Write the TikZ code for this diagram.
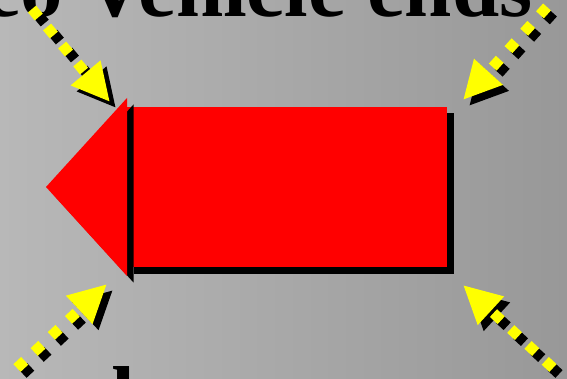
\documentclass[tikz,border=0pt]{standalone}
\usepackage{fontspec}
\setmainfont{Liberation Serif}
\usepackage{tikz}
\usetikzlibrary{arrows.meta, shadows}
\definecolor{slidelight}{RGB}{184,184,184}
\definecolor{slidedark}{RGB}{152,152,152}
\definecolor{vehred}{RGB}{255,0,0}
\definecolor{markyellow}{RGB}{255,255,0}

\begin{document}
\begin{tikzpicture}[x=1pt, y=-1pt,
    title/.style={font=\bfseries\fontsize{85}{90}\selectfont, anchor=base west, inner sep=0pt},
    vehicle/.style={fill=vehred, drop shadow={shadow xshift=6.5pt, shadow yshift=-6.5pt, opacity=1, fill=black}},
    marker/.style={line width=10.5pt, dash pattern=on 10.5pt off 13pt, -{Triangle[length=38pt,width=36pt]}},
    castshadow/.style={draw=black, transform canvas={shift={(6,6)}}}
]
\useasboundingbox (0,0) rectangle (567,379);
\clip (0,0) rectangle (567,379);
\shade[left color=slidelight, right color=slidedark] (0,0) rectangle (567,379);

\node[title] (headline) at (-17,17) {eo Vehicle ends};
\node[title] (footline) at (87,425) {d};

\node[vehicle, minimum width=320pt, minimum height=160pt, inner sep=0pt] (body) at (287,187) {};
\coordinate (nose) at (46,187);
\coordinate (noseup) at (127,98);
\coordinate (nosedown) at (127,276);
\path[vehicle] (nose) -- (noseup) -- (nosedown) -- cycle;

\coordinate (tlfrom) at (32,9);
\coordinate (tlto) at (110,102);
\coordinate (trfrom) at (547,7);
\coordinate (trto) at (463,100);
\coordinate (blfrom) at (17,368);
\coordinate (blto) at (107,284);
\coordinate (brfrom) at (553,368);
\coordinate (brto) at (463,285);

\draw[marker, castshadow] (tlfrom) -- (tlto);
\draw[marker, castshadow] (trfrom) -- (trto);
\draw[marker, castshadow] (blfrom) -- (blto);
\draw[marker, castshadow] (brfrom) -- (brto);
\draw[marker, markyellow] (tlfrom) -- (tlto);
\draw[marker, markyellow] (trfrom) -- (trto);
\draw[marker, markyellow] (blfrom) -- (blto);
\draw[marker, markyellow] (brfrom) -- (brto);
\end{tikzpicture}
\end{document}
